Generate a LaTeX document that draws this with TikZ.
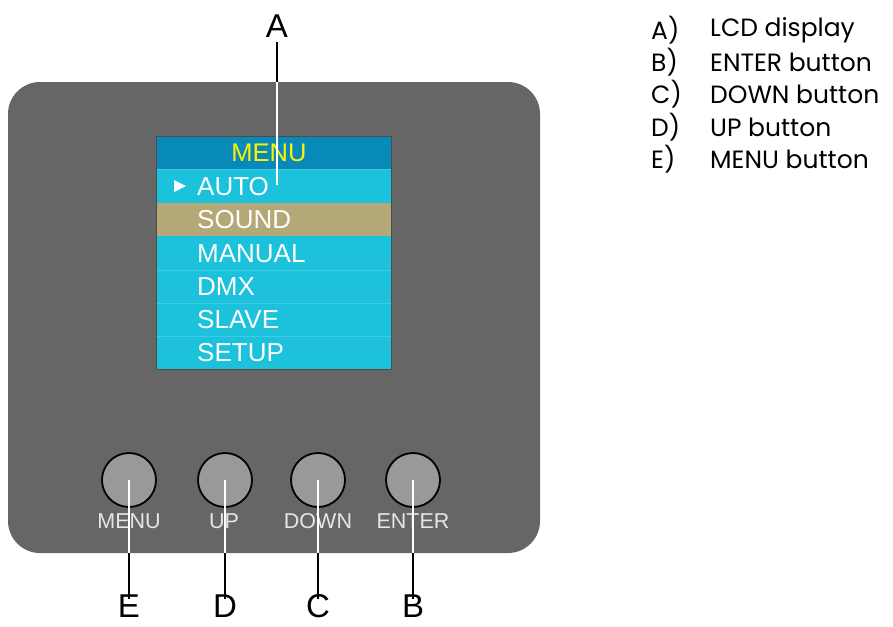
\documentclass[tikz,border=0pt]{standalone}
\usepackage{fontspec}
\setmainfont{Liberation Sans}
\newfontfamily\legendfont{Poppins}
\definecolor{panel}{HTML}{666666}
\definecolor{hdr}{HTML}{078AB9}
\definecolor{rowc}{HTML}{1CC1DB}
\definecolor{sep}{HTML}{3FCCE3}
\definecolor{sel}{HTML}{B5A878}
\definecolor{btn}{HTML}{999999}
\definecolor{btntxt}{HTML}{E6E6E6}
\tikzset{
  rowtxt/.style={anchor=west,text=white,font=\fontsize{26}{26}\selectfont,inner sep=0pt},
  btnlbl/.style={text=btntxt,font=\fontsize{21.5}{21.5}\selectfont,inner sep=0pt},
  button/.style={circle,draw=black,line width=1.8pt,fill=btn,minimum size=54pt,inner sep=0pt},
  letter/.style={font=\fontsize{33}{33}\selectfont,inner sep=0pt},
  legend/.style={anchor=west,font=\legendfont\fontsize{25}{25}\selectfont,inner sep=0pt},
  leadw/.style={white,line width=1.6pt},
  leadb/.style={black,line width=1.6pt}
}
\begin{document}
\begin{tikzpicture}[x=1pt,y=-1pt]
\useasboundingbox (0,0) rectangle (893,626);
% panel
\fill[panel,rounded corners=32pt] (8,82) rectangle (540,553);
% LCD
\fill[hdr] (156,136) rectangle (391,169);
\fill[rowc] (156,169) rectangle (391,369);
\fill[sel] (156,203) rectangle (391,236);
\foreach \yy in {270,303,336}{\draw[sep,line width=1pt] (156,\yy) -- (391,\yy);}
\draw[sep,line width=1pt] (156,169.5) -- (391,169.5);
\draw[black!70,line width=0.8pt] (156,136) rectangle (391,369);
\node[text=yellow,font=\fontsize{25.5}{25.5}\selectfont,inner sep=0pt] (hmenu) at (269,153) {MENU};
\fill[white] (174,180) -- (186,186) -- (174,192) -- cycle;
\node[rowtxt] (auto) at (197,187) {AUTO};
\node[rowtxt] (sound) at (197,220) {SOUND};
\node[rowtxt] (manual) at (197,254) {MANUAL};
\node[rowtxt] (dmx) at (197,287) {DMX};
\node[rowtxt] (slave) at (197,320) {SLAVE};
\node[rowtxt] (setup) at (197,353) {SETUP};
% buttons
\node[button] (b1) at (129,480) {};
\node[button] (b2) at (225,480) {};
\node[button] (b3) at (318,480) {};
\node[button] (b4) at (413,480) {};
\node[btnlbl] (l1) at (129,521) {MENU};
\node[btnlbl] (l2) at (224,521) {UP};
\node[btnlbl] (l3) at (318,521) {DOWN};
\node[btnlbl] (l4) at (413,521) {ENTER};
% letters
\node[letter] (A) at (277,26) {A};
\node[letter] (E) at (129,606) {E};
\node[letter] (D) at (225,606) {D};
\node[letter] (C) at (318,606) {C};
\node[letter] (B) at (413,606) {B};
% leader lines
\coordinate (aend) at (277,185);
\coordinate (aedge) at (277,82);
\draw[leadb] (A.south) ++(0,4) -- (aedge);
\draw[leadw] (aedge) -- (aend);
\foreach \b/\L in {b1/E,b2/D,b3/C,b4/B}{
  \coordinate (e\b) at (\b |- 0,553);
  \draw[leadw] (\b.center) -- (e\b);
  \draw[leadb] (e\b) -- ([yshift=-5pt]\L.north);
}
% legend
\node[legend] (la) at (651,30) {A)};
\node[legend] (lb) at (651,62) {B)};
\node[legend] (lc) at (651,94) {C)};
\node[legend] (ld) at (651,127) {D)};
\node[legend] (le) at (651,159) {E)};
\node[legend] (ta) at (710,30) {LCD display};
\node[legend] (tb) at (710,62) {ENTER button};
\node[legend] (tc) at (710,94) {DOWN button};
\node[legend] (td) at (710,127) {UP button};
\node[legend] (te) at (710,159) {MENU button};
\end{tikzpicture}
\end{document}
